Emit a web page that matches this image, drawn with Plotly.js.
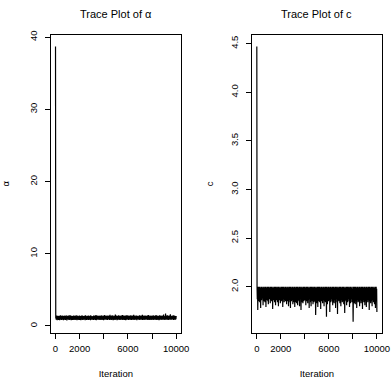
<!DOCTYPE html>
<html>
<head>
<meta charset="utf-8">
<script src="https://cdn.plot.ly/plotly-3.0.1.min.js"></script>
<style>html,body{margin:0;padding:0;background:#fff;}#chart{width:392px;height:379px;}</style>
</head>
<body>
<div id="chart"></div>
<script>
// Thinned MCMC draws (one value every 20 iterations, starting at iteration 1)
const alphaTrace = [38.7,
1.02,1.34,0.86,1.27,0.94,1.45,0.81,1.21,0.90,1.38,
0.97,1.30,0.84,1.42,1.05,1.25,0.79,1.36,0.92,1.48,
0.88,1.23,1.01,1.40,0.83,1.32,0.95,1.46,0.87,1.28,
0.99,1.37,0.80,1.24,0.93,1.43,0.85,1.31,1.03,1.39,
0.82,1.26,0.96,1.47,0.89,1.35,0.78,1.22,0.94,1.41,
1.00,1.29,0.86,1.44,0.91,1.33,0.84,1.25,0.98,1.50,
0.87,1.38,0.93,1.27,0.80,1.42,1.02,1.30,0.85,1.36,
0.95,1.24,0.82,1.46,0.90,1.34,0.88,1.40,0.97,1.28,
0.83,1.43,1.04,1.32,0.86,1.26,0.92,1.49,0.81,1.37,
0.96,1.30,0.88,1.41,0.99,1.23,0.84,1.35,0.91,1.45,
0.85,1.27,0.94,1.39,0.79,1.33,1.01,1.46,0.88,1.29,
0.92,1.44,0.83,1.25,0.97,1.38,0.86,1.31,0.90,1.42,
1.03,1.28,0.81,1.47,0.89,1.34,0.95,1.24,0.84,1.40,
0.93,1.36,0.87,1.30,1.00,1.45,0.82,1.26,0.96,1.33,
0.86,1.41,0.91,1.29,0.80,1.48,0.98,1.35,0.88,1.23,
0.94,1.39,0.85,1.32,1.02,1.27,0.83,1.44,0.90,1.37,
0.97,1.25,0.88,1.43,0.84,1.31,0.93,1.50,0.81,1.34,
0.89,1.40,1.01,1.28,0.86,1.46,0.92,1.22,0.95,1.38,
0.82,1.33,0.90,1.45,0.99,1.26,0.85,1.41,0.87,1.30,
1.04,1.47,0.83,1.35,0.91,1.29,0.96,1.39,0.80,1.44,
0.93,1.24,0.88,1.52,0.85,1.36,1.00,1.31,0.92,1.42,
0.86,1.28,0.97,1.46,0.82,1.34,0.89,1.40,0.94,1.27,
1.01,1.43,0.84,1.30,0.90,1.55,0.87,1.25,0.95,1.37,
0.83,1.33,0.93,1.48,0.88,1.29,0.98,1.44,0.81,1.35,
0.96,1.26,0.86,1.41,1.03,1.32,0.84,1.57,0.91,1.38,
0.89,1.45,0.94,1.27,0.80,1.36,0.99,1.30,0.87,1.49,
0.92,1.34,0.85,1.43,0.97,1.24,0.83,1.39,1.02,1.31,
0.86,1.47,0.90,1.35,0.88,1.28,0.95,1.53,0.82,1.40,
0.99,1.29,0.87,1.44,0.93,1.37,0.84,1.26,0.91,1.46,
0.81,1.38,1.00,1.32,0.86,1.51,0.92,1.25,0.96,1.42,
0.88,1.30,0.83,1.45,0.98,1.34,0.89,1.40,0.85,1.27,
0.94,1.48,0.91,1.36,0.82,1.29,1.01,1.43,0.87,1.33,
0.90,1.25,0.95,1.54,0.84,1.39,0.88,1.31,0.97,1.44,
0.85,1.35,0.92,1.28,1.02,1.46,0.80,1.37,0.93,1.30,
0.97,1.42,0.86,1.33,0.89,1.26,0.94,1.49,0.83,1.38,
0.91,1.29,0.99,1.45,0.85,1.34,0.90,1.41,0.88,1.56,
0.84,1.37,0.93,1.27,0.96,1.43,0.82,1.32,1.00,1.40,
0.89,1.46,0.87,1.30,0.92,1.36,0.95,1.24,0.86,1.48,
0.98,1.33,0.83,1.42,0.90,1.52,0.88,1.35,0.94,1.28,
0.82,1.40,0.96,1.31,0.87,1.45,1.01,1.27,0.85,1.39,
0.93,1.34,0.89,1.47,0.84,1.29,0.92,1.43,0.97,1.36,
0.86,1.25,1.00,1.38,0.91,1.50,0.83,1.32,0.88,1.44,
0.95,1.41,0.85,1.30,0.94,1.37,0.90,1.26,0.81,1.48,
0.99,1.33,0.87,1.45,0.86,1.28,0.96,1.40,0.92,1.35,
0.84,1.46,0.93,1.31,1.02,1.42,0.88,1.60,0.90,1.34,
0.97,1.27,0.82,1.39,0.89,1.74,0.94,1.36,0.85,1.43,
0.91,1.30,0.98,1.47,0.87,1.33,0.83,1.41,0.95,1.29,
0.88,1.44,0.90,1.35,0.92,1.62,0.86,1.38,0.99,1.32,
0.85,1.40,0.94,1.26,0.89,1.45,0.91,1.34,0.84,1.49,
0.96,1.31,0.87,1.42,1.00,1.36,0.88,1.28,0.93,1.39];

const cTrace = [4.47,
1.99,1.87,2.00,1.76,1.98,1.90,2.00,1.85,1.97,1.91,
2.00,1.84,1.99,1.89,1.96,1.78,2.00,1.90,1.98,1.86,
2.00,1.88,1.97,1.92,1.99,1.81,2.00,1.87,1.98,1.85,
1.99,1.90,2.00,1.84,1.97,1.88,2.00,1.79,1.99,1.89,
1.98,1.86,2.00,1.91,1.96,1.85,2.00,1.82,1.99,1.88,
2.00,1.87,1.97,1.90,1.99,1.83,2.00,1.86,1.98,1.92,
2.00,1.85,1.99,1.88,1.97,1.77,2.00,1.89,1.98,1.86,
1.99,1.91,2.00,1.84,1.96,1.88,2.00,1.81,1.98,1.87,
2.00,1.86,1.97,1.90,1.99,1.84,2.00,1.88,1.98,1.80,
2.00,1.89,1.99,1.86,1.97,1.92,2.00,1.83,1.98,1.87,
1.99,1.85,2.00,1.89,1.96,1.86,2.00,1.79,1.99,1.90,
2.00,1.87,1.97,1.84,1.99,1.88,2.00,1.86,1.98,1.85,
2.00,1.90,1.99,1.82,1.97,1.87,2.00,1.85,1.98,1.89,
1.99,1.80,2.00,1.86,1.96,1.91,2.00,1.84,1.99,1.78,
2.00,1.88,1.97,1.85,1.99,1.87,2.00,1.86,1.98,1.82,
2.00,1.90,1.99,1.84,1.97,1.88,2.00,1.79,1.98,1.86,
1.99,1.84,2.00,1.89,1.96,1.83,2.00,1.87,1.99,1.81,
2.00,1.86,1.97,1.91,1.99,1.85,2.00,1.80,1.98,1.88,
2.00,1.87,1.99,1.76,1.97,1.88,2.00,1.84,1.98,1.90,
1.99,1.83,2.00,1.87,1.96,1.85,2.00,1.89,1.99,1.86,
2.00,1.89,1.97,1.81,1.99,1.86,2.00,1.85,1.98,1.88,
2.00,1.83,1.99,1.90,1.97,1.86,2.00,1.78,1.98,1.87,
1.99,1.88,2.00,1.84,1.96,1.80,2.00,1.87,1.99,1.85,
2.00,1.86,1.97,1.82,1.99,1.89,2.00,1.84,1.98,1.87,
2.00,1.85,1.99,1.90,1.71,1.88,2.00,1.86,1.98,1.83,
1.99,1.87,2.00,1.79,1.96,1.88,2.00,1.85,1.99,1.90,
2.00,1.84,1.97,1.86,1.99,1.77,2.00,1.88,1.98,1.85,
2.00,1.89,1.99,1.83,1.97,1.87,2.00,1.86,1.98,1.80,
1.99,1.85,2.00,1.88,1.96,1.84,2.00,1.90,1.99,1.69,
2.00,1.87,1.97,1.82,1.99,1.88,2.00,1.85,1.98,1.86,
2.00,1.86,1.99,1.74,1.97,1.89,2.00,1.84,1.98,1.87,
1.99,1.88,2.00,1.85,1.96,1.81,2.00,1.87,1.99,1.84,
2.00,1.83,1.97,1.89,1.99,1.86,2.00,1.78,1.98,1.88,
2.00,1.87,1.99,1.84,1.97,1.72,2.00,1.86,1.98,1.89,
1.99,1.85,2.00,1.88,1.96,1.83,2.00,1.87,1.99,1.80,
2.00,1.89,1.97,1.86,1.99,1.84,2.00,1.88,1.98,1.85,
2.00,1.82,1.99,1.87,1.97,1.73,2.00,1.85,1.98,1.88,
1.99,1.86,2.00,1.81,1.96,1.89,2.00,1.84,1.99,1.87,
2.00,1.88,1.97,1.85,1.99,1.79,2.00,1.86,1.98,1.83,
2.00,1.87,1.99,1.89,1.97,1.84,2.00,1.88,1.98,1.85,
1.64,1.90,2.00,1.86,1.96,1.83,2.00,1.87,1.99,1.82,
2.00,1.85,1.97,1.88,1.99,1.78,2.00,1.86,1.98,1.89,
2.00,1.84,1.99,1.87,1.97,1.85,2.00,1.80,1.98,1.88,
1.99,1.86,2.00,1.83,1.96,1.89,2.00,1.85,1.99,1.77,
2.00,1.88,1.97,1.86,1.99,1.84,2.00,1.87,1.98,1.81,
2.00,1.85,1.99,1.89,1.97,1.79,2.00,1.86,1.98,1.88,
1.99,1.84,2.00,1.87,1.96,1.86,2.00,1.76,1.99,1.85,
2.00,1.88,1.97,1.83,1.99,1.87,2.00,1.85,1.98,1.80,
2.00,1.86,1.99,1.89,1.97,1.84,2.00,1.88,1.98,1.82,
1.99,1.87,2.00,1.78,1.96,1.85,2.00,1.86,1.98,1.74];

const firstIteration = 1;
const thinStep = 20;

const panelTitles = ["Trace Plot of \u03b1", "Trace Plot of c"];
const yTitles = ["\u03b1", "c"];
const xTitle = "Iteration";

const xTickVals = [0, 2000, 4000, 6000, 8000, 10000];
const xTickText = ["0", "2000", "", "6000", "", "10000"];
const alphaTickVals = [0, 10, 20, 30, 40];
const alphaTickText = ["0", "10", "20", "30", "40"];
const cTickVals = [2.0, 2.5, 3.0, 3.5, 4.0, 4.5];
const cTickText = ["2.0", "2.5", "3.0", "3.5", "4.0", "4.5"];

const FONT = "Liberation Sans, Arial, Helvetica, sans-serif";

const traces = [
  {type: "scatter", mode: "lines", y: alphaTrace, x0: firstIteration, dx: thinStep,
   xaxis: "x", yaxis: "y", line: {color: "#000", width: 1.2, simplify: false}, hoverinfo: "skip"},
  {type: "scatter", mode: "lines", y: cTrace, x0: firstIteration, dx: thinStep,
   xaxis: "x2", yaxis: "y2", line: {color: "#000", width: 1.2, simplify: false}, hoverinfo: "skip"}
];

function xAxis(domain, anchor) {
  return {
    domain: domain, anchor: anchor, range: [-399, 10400],
    tickmode: "array", tickvals: xTickVals, ticktext: xTickText,
    ticks: "outside", ticklen: 5, tickwidth: 1, tickcolor: "#000",
    showline: true, linecolor: "#000", linewidth: 1, mirror: true,
    showgrid: false, zeroline: false, ticklabelstandoff: 2,
    tickfont: {family: FONT, size: 9.5, color: "#000"},
    title: {text: xTitle, font: {family: FONT, size: 9.5, color: "#000"}, standoff: 18}
  };
}
function yAxis(domain, anchor, range, vals, text, title, standoff) {
  return {
    domain: domain, anchor: anchor, range: range,
    tickmode: "array", tickvals: vals, ticktext: text, tickangle: -90,
    ticks: "outside", ticklen: 5, tickwidth: 1, tickcolor: "#000",
    showline: true, linecolor: "#000", linewidth: 1, mirror: true,
    showgrid: false, zeroline: false, ticklabelstandoff: 4,
    tickfont: {family: FONT, size: 9.5, color: "#000"},
    title: {text: title, font: {family: FONT, size: 9.5, color: "#000"}, standoff: standoff}
  };
}

const layout = {
  width: 392, height: 379,
  margin: {l: 0, r: 0, t: 0, b: 0},
  paper_bgcolor: "#fff", plot_bgcolor: "#fff",
  showlegend: false,
  font: {family: FONT, color: "#000"},
  xaxis: xAxis([0.1293, 0.4617], "y"),
  yaxis: yAxis([0.1222, 0.9077], "x", [-0.93, 40.3], alphaTickVals, alphaTickText, yTitles[0], 18),
  xaxis2: xAxis([0.6429, 0.9737], "y2"),
  yaxis2: yAxis([0.1222, 0.9077], "x2", [1.527, 4.589], cTickVals, cTickText, yTitles[1], 13),
  annotations: [
    {text: panelTitles[0], xref: "paper", yref: "paper", x: 0.2955, y: 1 - 14/379,
     xanchor: "center", yanchor: "middle", showarrow: false,
     font: {family: FONT, size: 11, color: "#000"}},
    {text: panelTitles[1], xref: "paper", yref: "paper", x: 0.8083, y: 1 - 14/379,
     xanchor: "center", yanchor: "middle", showarrow: false,
     font: {family: FONT, size: 11, color: "#000"}}
  ]
};

Plotly.newPlot("chart", traces, layout, {staticPlot: true, displayModeBar: false});
</script>
</body>
</html>
